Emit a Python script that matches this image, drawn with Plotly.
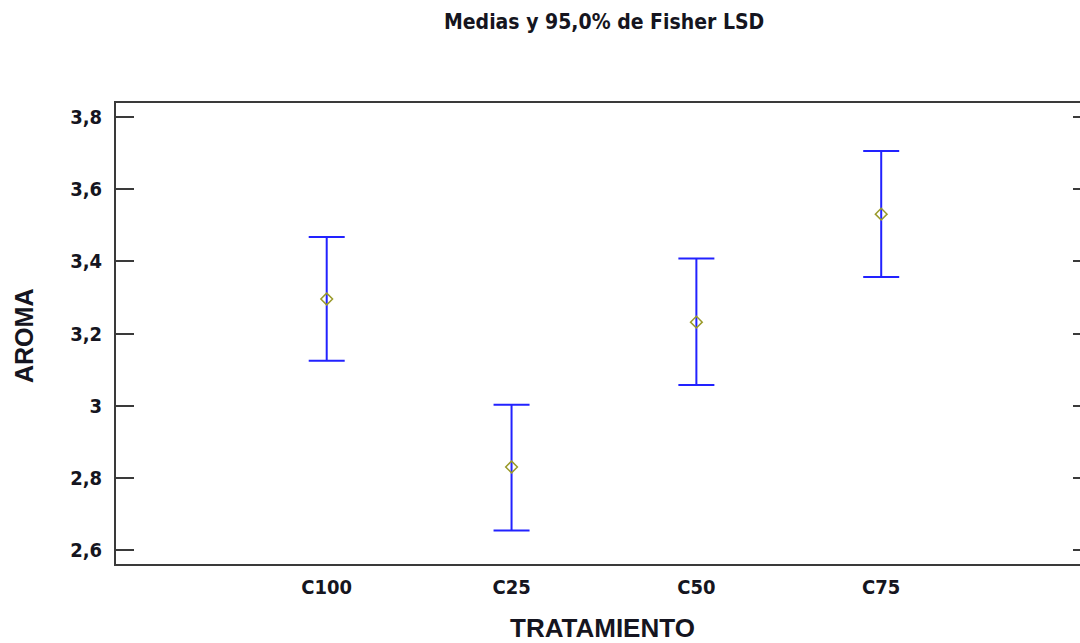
import plotly.graph_objects as go

# Data
categories = ["C100", "C25", "C50", "C75"]
means = [3.296, 2.831, 3.232, 3.531]
lower = [3.125, 2.655, 3.058, 3.357]
upper = [3.468, 3.003, 3.408, 3.706]
y_ticks = [2.6, 2.8, 3.0, 3.2, 3.4, 3.6, 3.8]
y_tick_labels = ["2,6", "2,8", "3", "3,2", "3,4", "3,6", "3,8"]

title_text = "Medias y 95,0% de Fisher LSD"
x_title = "TRATAMIENTO"
y_title = "AROMA"

NARROW = "DejaVu Sans Condensed, Liberation Sans Narrow, sans-serif"
WIDE = "Liberation Sans, Arial, sans-serif"
FRAME = "#3a3a3a"
TXT = "#151520"

W, H = 1091, 643
L, R, T, B = 116, 0, 103, 79
PW, PH = W - L - R, H - T - B

x_idx = list(range(len(categories)))
err_plus = [u - m for u, m in zip(upper, means)]
err_minus = [m - l for m, l in zip(means, lower)]

fig = go.Figure()
fig.add_trace(go.Scatter(
    x=x_idx, y=means, mode="markers",
    marker=dict(symbol="diamond-open", size=9, color="#9a9a2a", line=dict(width=1.5, color="#9a9a2a")),
    error_y=dict(type="data", symmetric=False, array=err_plus, arrayminus=err_minus,
                 color="#2222ff", thickness=2, width=18),
    showlegend=False, hoverinfo="skip",
))
fig.add_trace(go.Scatter(x=[x_idx[0]], y=[means[0]], yaxis="y2", mode="markers",
                         marker=dict(opacity=0), showlegend=False, hoverinfo="skip"))

y_range = [2.5624, 3.8387]
fig.update_layout(
    width=W, height=H,
    margin=dict(l=L, r=R, t=T, b=B),
    paper_bgcolor="white", plot_bgcolor="white",
    xaxis=dict(
        range=[-1.14, 4.135], tickmode="array", tickvals=x_idx, ticktext=categories,
        showgrid=False, zeroline=False, showline=True, linecolor=FRAME, linewidth=2,
        mirror=True, ticks="", tickfont=dict(family=NARROW, size=20, color=TXT, weight="bold"),
        ticklabelstandoff=4,
    ),
    yaxis=dict(
        range=y_range, tickmode="array", tickvals=y_ticks, ticktext=y_tick_labels,
        showgrid=False, zeroline=False, showline=True, linecolor=FRAME, linewidth=2,
        ticks="inside", ticklen=18, tickwidth=2, tickcolor=FRAME,
        tickfont=dict(family=NARROW, size=20, color=TXT, weight="bold"), ticklabelstandoff=8,
    ),
    yaxis2=dict(
        range=y_range, overlaying="y", side="right", tickmode="array", tickvals=y_ticks,
        showticklabels=False, showgrid=False, zeroline=False, showline=False,
        ticks="inside", ticklen=18, tickwidth=2, tickcolor=FRAME,
    ),
    annotations=[
        dict(text=title_text, xref="paper", yref="paper", x=(603.5 - L) / PW, y=1 + (T - 22) / PH,
             xanchor="center", yanchor="middle", showarrow=False,
             font=dict(family=NARROW, size=21, color=TXT, weight="bold")),
        dict(text=x_title, xref="paper", yref="paper", x=(602 - L) / PW, y=-(628 - (H - B)) / PH,
             xanchor="center", yanchor="middle", showarrow=False,
             font=dict(family=WIDE, size=26, color=TXT, weight="bold")),
        dict(text=y_title, xref="paper", yref="paper", x=-(L - 24) / PW, y=((H - B) - 336) / PH,
             xanchor="center", yanchor="middle", showarrow=False, textangle=-90,
             font=dict(family=WIDE, size=25, color=TXT, weight="bold")),
    ],
)

fig.write_html(
    "out.html",
    config={"displayModeBar": False},
    post_script="document.body.style.margin='0';document.body.style.overflow='hidden';",
)
